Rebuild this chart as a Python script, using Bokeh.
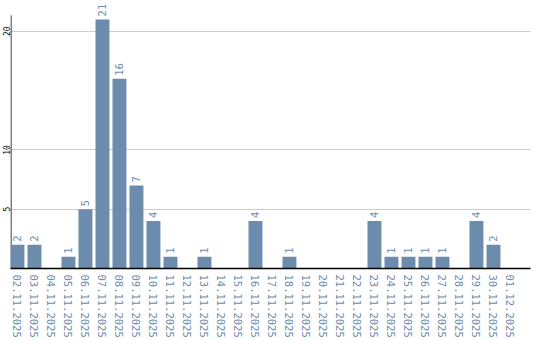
from bokeh.plotting import figure
from bokeh.models import FixedTicker, Range1d, ColumnDataSource
from bokeh.embed import file_html
from bokeh.resources import INLINE
from bokeh.core.properties import value
import math

dates = ["02.11.2025", "03.11.2025", "04.11.2025", "05.11.2025", "06.11.2025",
         "07.11.2025", "08.11.2025", "09.11.2025", "10.11.2025", "11.11.2025",
         "12.11.2025", "13.11.2025", "14.11.2025", "15.11.2025", "16.11.2025",
         "17.11.2025", "18.11.2025", "19.11.2025", "20.11.2025", "21.11.2025",
         "22.11.2025", "23.11.2025", "24.11.2025", "25.11.2025", "26.11.2025",
         "27.11.2025", "28.11.2025", "29.11.2025", "30.11.2025", "01.12.2025"]
counts = [2, 2, 0, 1, 5, 21, 16, 7, 4, 1,
          0, 1, 0, 0, 4, 0, 1, 0, 0, 0,
          0, 4, 1, 1, 1, 1, 0, 4, 2, 0]
y_ticks = [5, 10, 20]

xs = list(range(len(dates)))
src = ColumnDataSource(dict(x=xs, top=counts))
nz = [i for i, c in enumerate(counts) if c > 0]
lab_src = ColumnDataSource(dict(x=[xs[i] for i in nz], y=[counts[i] for i in nz],
                                lab=[str(counts[i]) for i in nz]))

ppu = 239 / 20.0          # pixels per unit on y
x0 = -0.41
p = figure(width=540, height=340, output_backend="svg", toolbar_location=None,
           x_range=Range1d(x0, x0 + 520 / 17), y_range=Range1d(0, 270 / ppu),
           min_border_left=10, min_border_right=10, min_border_top=0,
           min_border_bottom=70)
p.outline_line_color = None
p.background_fill_color = "white"

bar_color = "#6b8cad"
text_color = "#6d8cae"
mono = "DejaVu Sans Mono"

p.ygrid.ticker = FixedTicker(ticks=y_ticks)
p.ygrid.grid_line_color = "#cccccc"
p.ygrid.grid_line_width = 1
p.xgrid.visible = False

# y axis line (drawn as a glyph so it can stop short of the top)
p.segment(x0=[x0 + 0.5 / 17], y0=[0], x1=[x0 + 0.5 / 17], y1=[255 / ppu],
          line_color="black", line_width=1)

p.vbar(x="x", top="top", bottom=0, width=0.82, source=src,
       fill_color=bar_color, line_color=None)
p.text(x="x", y="y", text="lab", source=lab_src, angle=math.pi / 2,
       text_align="left", text_baseline="middle", y_offset=-3,
       text_font=value(mono), text_font_size="10.5px", text_color=text_color)

# x axis
xa = p.xaxis[0]
xa.ticker = FixedTicker(ticks=xs)
xa.major_label_overrides = {i: d for i, d in enumerate(dates)}
xa.major_label_orientation = "vertical"
xa.major_label_text_font = mono
xa.major_label_text_font_size = "10.5px"
xa.major_label_text_color = text_color
xa.major_tick_line_color = None
xa.minor_tick_line_color = None
xa.major_tick_out = 0
xa.major_tick_in = 0
xa.major_label_standoff = 6
xa.axis_line_color = "black"
xa.axis_line_width = 1.5

# y axis
ya = p.yaxis[0]
ya.ticker = FixedTicker(ticks=y_ticks)
ya.major_label_orientation = "vertical"
ya.major_label_text_font = mono
ya.major_label_text_font_size = "8px"
ya.major_label_text_color = "black"
ya.major_tick_line_color = None
ya.minor_tick_line_color = None
ya.major_tick_out = 0
ya.major_tick_in = 0
ya.major_label_standoff = 0
ya.axis_line_color = None

open("out.html", "w").write(file_html(p, INLINE))
